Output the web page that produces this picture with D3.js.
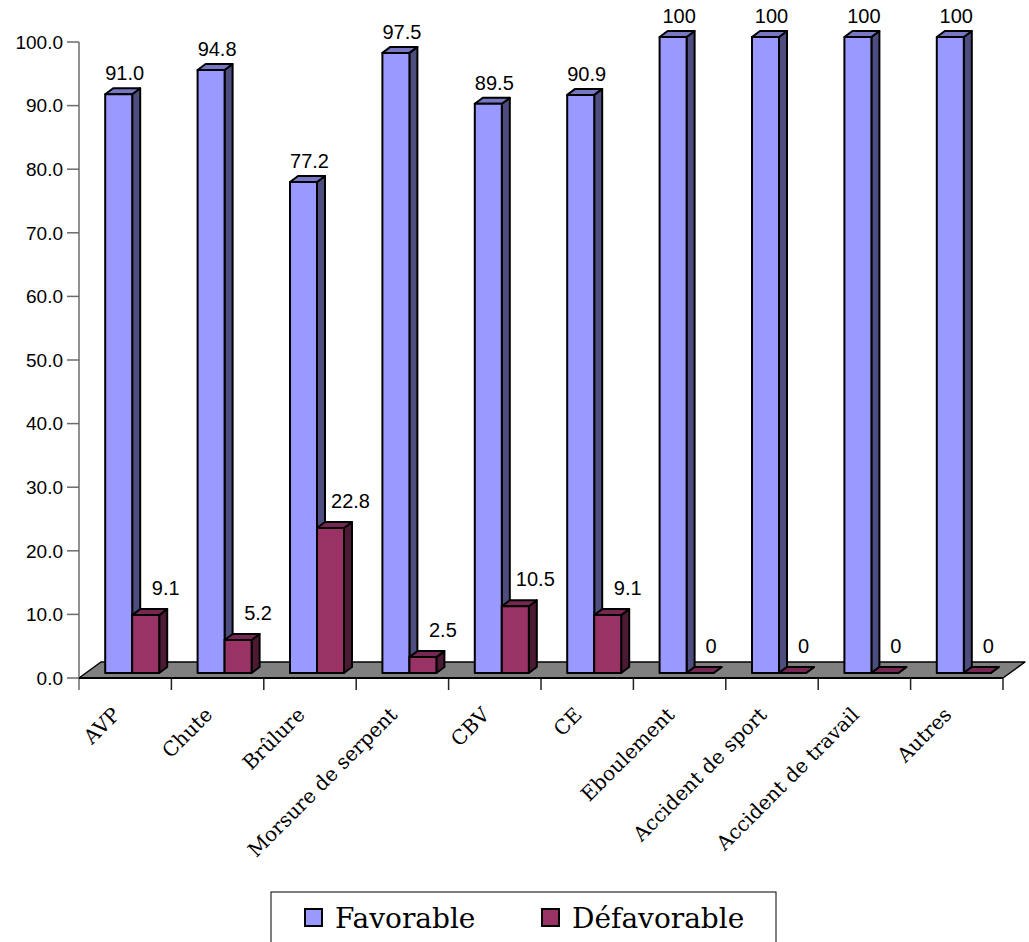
<!DOCTYPE html>
<html>
<head>
<meta charset="utf-8">
<script src="https://cdn.jsdelivr.net/npm/d3@7"></script>
<style>
  html, body { margin: 0; padding: 0; background: #fff; }
  svg { display: block; }
</style>
</head>
<body>
<svg id="chart" width="1029" height="942"></svg>
<script>
// Outcome by cause of injury (percent)
const categories = ["AVP", "Chute", "Brûlure", "Morsure de serpent", "CBV", "CE",
  "Eboulement", "Accident de sport", "Accident de travail", "Autres"];
const favorableText = ["91.0", "94.8", "77.2", "97.5", "89.5", "90.9", "100", "100", "100", "100"];
const defavorableText = ["9.1", "5.2", "22.8", "2.5", "10.5", "9.1", "0", "0", "0", "0"];
const yTicks = [0, 10, 20, 30, 40, 50, 60, 70, 80, 90, 100];
const seriesNames = ["Favorable", "Défavorable"];

const favorable = favorableText.map(Number);
const defavorable = defavorableText.map(Number);

const svg = d3.select("#chart");

// Scales
const x = d3.scaleBand().domain(categories).range([79, 1003]).paddingInner(0).paddingOuter(0);
const y = d3.scaleLinear().domain([0, 100]).range([678, 42]);

// Oblique projection: floor depth and bar depth
const floorDepth = { dx: 22, dy: -16 };
const barShift = { dx: 7, dy: -5 };   // bars sit slightly behind the front edge
const barDepth = { dx: 8, dy: -6 };
const barW = 27;

const palette = [
  { front: "#9999FF", side: "#4D4D80", top: "#7777C4" },
  { front: "#993366", side: "#4D1A33", top: "#772852" }
];

// Floor
const x0 = x.range()[0], x1 = x.range()[1], yb = y(0);
svg.append("polygon")
  .attr("points", [[x0, yb], [x1, yb], [x1 + floorDepth.dx, yb + floorDepth.dy], [x0 + floorDepth.dx, yb + floorDepth.dy]].join(" "))
  .attr("fill", "#808080")
  .attr("stroke", "#000")
  .attr("stroke-width", 1.5)
  .attr("stroke-linejoin", "round");

// Y axis
const yAxis = svg.append("g");
yAxis.append("line")
  .attr("x1", x0).attr("x2", x0)
  .attr("y1", y(100)).attr("y2", yb + 12)
  .attr("stroke", "#6b6b6b").attr("stroke-width", 1.5);
yAxis.selectAll("line.tick").data(yTicks).join("line")
  .attr("class", "tick")
  .attr("x1", x0 - 12).attr("x2", x0)
  .attr("y1", d => y(d)).attr("y2", d => y(d))
  .attr("stroke", "#6b6b6b").attr("stroke-width", 1.5);
yAxis.selectAll("text").data(yTicks).join("text")
  .attr("x", x0 - 16)
  .attr("y", d => y(d))
  .attr("dy", "0.36em")
  .attr("text-anchor", "end")
  .attr("font-family", "Liberation Sans, Arial, sans-serif")
  .attr("font-size", 19)
  .attr("fill", "#000")
  .text(d3.format(".1f"));

// X axis: front edge ticks at category boundaries
const bounds = categories.map(c => x(c)).concat([x1]);
svg.append("g").selectAll("line").data(bounds.slice(1)).join("line")
  .attr("x1", d => d).attr("x2", d => d)
  .attr("y1", yb).attr("y2", yb + 12)
  .attr("stroke", "#222").attr("stroke-width", 1.5);
svg.append("line")
  .attr("x1", x0).attr("x2", x1)
  .attr("y1", yb).attr("y2", yb)
  .attr("stroke", "#000").attr("stroke-width", 2);

// Category labels
svg.append("g").selectAll("text").data(categories).join("text")
  .attr("transform", d => `translate(${x(d) + x.bandwidth() / 2 - 4},${yb + 38}) rotate(-45)`)
  .attr("text-anchor", "end")
  .attr("font-family", "DejaVu Serif, serif")
  .attr("font-size", 20)
  .attr("fill", "#000")
  .text(d => d);

// 3D bars
function drawBar(g, left, value, col) {
  const xl = left + barShift.dx;
  const xr = xl + barW;
  const yBase = y(0) + barShift.dy;
  const yTop = y(value) + barShift.dy;
  const ddx = barDepth.dx, ddy = barDepth.dy;
  const stroke = { stroke: "#000", "stroke-width": 2, "stroke-linejoin": "round" };
  const side = g.append("polygon")
    .attr("points", [[xr, yBase], [xr + ddx, yBase + ddy], [xr + ddx, yTop + ddy], [xr, yTop]].join(" "))
    .attr("fill", col.side);
  const top = g.append("polygon")
    .attr("points", [[xl, yTop], [xr, yTop], [xr + ddx, yTop + ddy], [xl + ddx, yTop + ddy]].join(" "))
    .attr("fill", col.top);
  const front = g.append("rect")
    .attr("x", xl).attr("y", yTop)
    .attr("width", barW).attr("height", Math.max(0, yBase - yTop))
    .attr("fill", col.front);
  [side, top, front].forEach(s => Object.entries(stroke).forEach(([k, v]) => s.attr(k, v)));
  return { xl, xr, yTop };
}

const bars = svg.append("g");
const labels = svg.append("g")
  .attr("font-family", "Liberation Sans, Arial, sans-serif")
  .attr("font-size", 20)
  .attr("fill", "#000")
  .attr("text-anchor", "middle");

categories.forEach((c, i) => {
  const start = x(c) + (x.bandwidth() - 2 * barW) / 2;
  const g = bars.append("g");
  const b1 = drawBar(g, start, favorable[i], palette[0]);
  const b2 = drawBar(g, start + barW, defavorable[i], palette[1]);
  labels.append("text")
    .attr("x", (b1.xl + b1.xr) / 2 + 6)
    .attr("y", b1.yTop - 14)
    .text(favorableText[i]);
  labels.append("text")
    .attr("x", (b2.xl + b2.xr) / 2 + (defavorable[i] > 0 ? 20 : 11))
    .attr("y", b2.yTop - 20)
    .text(defavorableText[i]);
});

// Legend
const legend = svg.append("g");
legend.append("rect")
  .attr("x", 271).attr("y", 892)
  .attr("width", 505).attr("height", 70)
  .attr("fill", "#fff").attr("stroke", "#000").attr("stroke-width", 1);
const legendX = [305, 542];
seriesNames.forEach((name, i) => {
  legend.append("rect")
    .attr("x", legendX[i]).attr("y", 909)
    .attr("width", 17).attr("height", 17)
    .attr("fill", palette[i].front)
    .attr("stroke", "#000").attr("stroke-width", 2);
  legend.append("text")
    .attr("x", legendX[i] + 30).attr("y", 928)
    .attr("font-family", "DejaVu Serif, serif")
    .attr("font-size", 28)
    .attr("fill", "#000")
    .text(name);
});
</script>
</body>
</html>
